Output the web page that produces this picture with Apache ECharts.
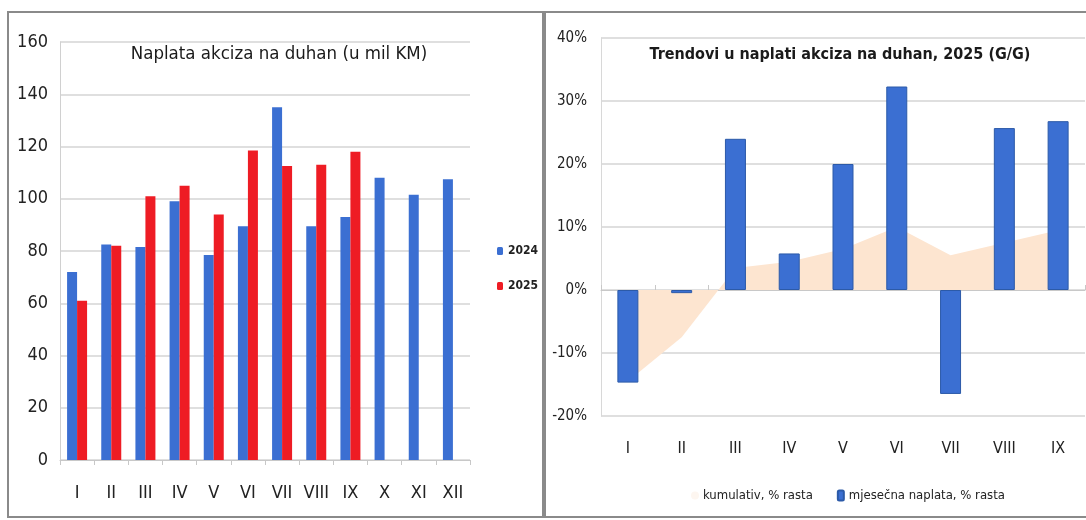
<!DOCTYPE html>
<html>
<head>
<meta charset="utf-8">
<script src="https://cdn.jsdelivr.net/npm/echarts@6/dist/echarts.min.js"></script>
<style>
  html, body { margin: 0; padding: 0; background: #fff; }
  #chart { width: 1086px; height: 520px; }
</style>
</head>
<body>
<div id="chart"></div>
<script>
// monthly categories
var months = ['I', 'II', 'III', 'IV', 'V', 'VI', 'VII', 'VIII', 'IX', 'X', 'XI', 'XII']
var months2025 = ['I', 'II', 'III', 'IV', 'V', 'VI', 'VII', 'VIII', 'IX']

// Naplata akciza na duhan (u mil KM)
var naplata2024 = [72, 82.5, 81.5, 99, 78.5, 89.5, 135, 89.5, 93, 108, 101.5, 107.5]
var naplata2025 = [61, 82, 101, 105, 94, 118.5, 112.5, 113, 118, null, null, null]

// Trendovi, % rasta
var kumulativ = [-14.5, -7.5, 3.5, 4.5, 6.5, 10, 5.5, 7.5, 9.5]
var mjesecna = [-14.7, -0.5, 24, 5.8, 20, 32.3, -16.5, 25.7, 26.8]

var font = "'Liberation Sans Narrow', 'DejaVu Sans Condensed', 'Roboto', sans-serif"
var blue = '#3b6fd2'
var red = '#ee1c24'

var chart = echarts.init(document.getElementById('chart'))

chart.setOption({
  backgroundColor: '#fff',
  animation: false,
  textStyle: { fontFamily: font },
  title: [{
    text: 'Naplata akciza na duhan (u mil KM)',
    left: 274,
    textAlign: 'center',
    top: 40,
    textStyle: { fontFamily: font, fontSize: 18.5, fontWeight: 'normal', color: '#1a1a1a' }
  }, {
    text: 'Trendovi u naplati akciza na duhan, 2025 (G/G)',
    left: 835,
    textAlign: 'center',
    top: 42,
    textStyle: { fontFamily: font, fontSize: 16, fontWeight: 'bold', color: '#1a1a1a' }
  }],
  graphic: [{
    type: 'rect',
    shape: { x: 8, y: 12, width: 535, height: 505 },
    style: { fill: 'none', stroke: '#8a8a8a', lineWidth: 2 },
    silent: true
  }, {
    type: 'rect',
    shape: { x: 545, y: 12, width: 560, height: 505 },
    style: { fill: 'none', stroke: '#8a8a8a', lineWidth: 2 },
    silent: true
  }],
  legend: [{
    orient: 'vertical',
    left: 492,
    top: 240,
    itemWidth: 6,
    itemHeight: 8,
    itemGap: 23,
    textStyle: { fontFamily: font, fontSize: 12, fontWeight: 'bold', color: '#222' },
    data: ['2024', '2025']
  }, {
    left: 686,
    top: 484,
    itemWidth: 6,
    itemHeight: 10,
    itemGap: 24,
    textStyle: { fontFamily: font, fontSize: 13, color: '#222' },
    data: [
      { name: 'kumulativ, % rasta', itemStyle: { color: '#fdf6f0' } },
      'mjesečna naplata, % rasta'
    ]
  }],
  grid: [{
    left: 60,
    right: 616,
    top: 42,
    bottom: 60
  }, {
    left: 601,
    right: 1,
    top: 38,
    bottom: 104
  }],
  xAxis: [{
    type: 'category',
    gridIndex: 0,
    data: months,
    axisLine: { lineStyle: { color: '#c8c8c8' } },
    axisTick: { show: true, length: 5, lineStyle: { color: '#c8c8c8' } },
    axisLabel: { fontFamily: font, fontSize: 18, color: '#222', margin: 24, interval: 0 }
  }, {
    type: 'category',
    gridIndex: 1,
    data: months2025,
    position: 'bottom',
    axisLine: { show: false, onZero: false },
    axisTick: { show: false },
    axisLabel: { fontFamily: font, fontSize: 16, color: '#222', margin: 25, interval: 0 }
  }, {
    type: 'category',
    gridIndex: 1,
    data: months2025,
    axisLine: { onZero: true, lineStyle: { color: '#c8c8c8' } },
    axisTick: { show: true, length: 5, lineStyle: { color: '#c8c8c8' } },
    axisLabel: { show: false }
  }],
  yAxis: [{
    type: 'value',
    gridIndex: 0,
    min: 0,
    max: 160,
    interval: 20,
    axisLine: { show: true, lineStyle: { color: '#d0d0d0' } },
    axisTick: { show: false },
    splitLine: { lineStyle: { color: '#d4d4d4', width: 1.5 } },
    axisLabel: { fontFamily: font, fontSize: 18, color: '#222', margin: 12 }
  }, {
    type: 'value',
    gridIndex: 1,
    min: -20,
    max: 40,
    interval: 10,
    axisLine: { show: true, lineStyle: { color: '#d8d8d8' } },
    axisTick: { show: false },
    splitLine: { lineStyle: { color: '#d4d4d4', width: 1.5 } },
    axisLabel: { fontFamily: font, fontSize: 15, color: '#222', margin: 14, formatter: '{value}%' }
  }],
  series: [{
    name: '2024',
    type: 'bar',
    xAxisIndex: 0,
    yAxisIndex: 0,
    barGap: 0,
    barWidth: 10,
    itemStyle: { color: blue },
    data: naplata2024
  }, {
    name: '2025',
    type: 'bar',
    xAxisIndex: 0,
    yAxisIndex: 0,
    barWidth: 10,
    itemStyle: { color: red },
    data: naplata2025
  }, {
    name: 'kumulativ, % rasta',
    type: 'line',
    xAxisIndex: 1,
    yAxisIndex: 1,
    symbol: 'none',
    z: 1,
    lineStyle: { width: 0 },
    itemStyle: { color: '#fde5d0' },
    areaStyle: { color: '#fde5d0', opacity: 1 },
    data: kumulativ
  }, {
    name: 'mjesečna naplata, % rasta',
    type: 'bar',
    xAxisIndex: 1,
    yAxisIndex: 1,
    barWidth: 21,
    z: 3,
    itemStyle: { color: blue, borderColor: '#2c5aa8', borderWidth: 1 },
    data: mjesecna
  }]
})
</script>
</body>
</html>
